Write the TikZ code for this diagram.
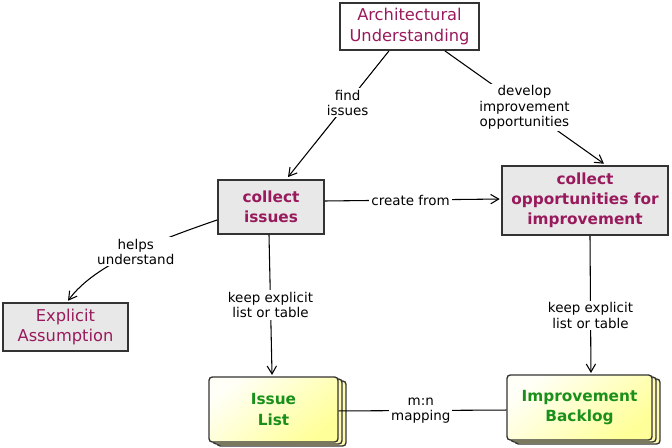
\documentclass[tikz,border=0pt]{standalone}
\usepackage{fontspec}
\setmainfont{DejaVu Sans}
\usetikzlibrary{arrows.meta,shadows}
\definecolor{txtpurple}{HTML}{991A5C}
\definecolor{txtgreen}{HTML}{1A901A}
\definecolor{boxgray}{HTML}{E8E8E8}
\definecolor{boxline}{HTML}{333333}
\begin{document}
\begin{tikzpicture}[x=0.75pt,y=-0.75pt,
  box/.style={draw=boxline, line width=1.4pt, inner sep=2pt, align=center,
    text=txtpurple, font=\fontsize{12.2}{15.2}\selectfont},
  graybox/.style={box, fill=boxgray},
  boldtxt/.style={font=\bfseries\fontsize{11.5}{15.2}\selectfont},
  stackbox/.style={draw=boxline, line width=1pt, rounded corners=2.5pt, align=center,
    text=txtgreen, font=\bfseries\fontsize{11.5}{15.2}\selectfont,
    top color=yellow!3, bottom color=yellow!40, shading angle=40,
    double copy shadow={shadow xshift=3pt, shadow yshift=-1.5pt, fill=yellow!30, draw=boxline}},
  conn/.style={draw=black, line width=0.8pt, -{Straight Barb[length=6pt,width=7pt]}},
  lbl/.style={fill=white, inner sep=1.5pt, align=center, text=black,
    font=\fontsize{10.1}{11.4}\selectfont}]
\useasboundingbox (0,0) rectangle (672,448);

\node[box, fill=white, minimum width=104.25pt, minimum height=35.25pt] (arch) at (409.5,26.5) {Architectural\\Understanding};
\node[graybox, boldtxt, minimum width=79.5pt, minimum height=40.5pt] (ci) at (271,207) {collect\\issues};
\node[graybox, boldtxt, minimum width=124.5pt, minimum height=51.75pt] (co) at (585,200.5) {collect\\opportunities for\\improvement};
\node[graybox, minimum width=93.75pt, minimum height=36pt] (ea) at (65.5,327) {Explicit\\Assumption};
\node[stackbox, minimum width=96.75pt, minimum height=48.75pt] (il) at (273.5,409.5) {Issue\\List};
\node[stackbox, minimum width=108.75pt, minimum height=48.75pt] (ib) at (579.5,407.5) {Improvement\\Backlog};

\draw[conn] ([xshift=-15.4pt]arch.south) -- node[lbl, pos=0.41] {find\\issues} ([xshift=12.75pt,yshift=1.5pt]ci.north);
\draw[conn] ([xshift=26.6pt]arch.south) -- node[lbl, pos=0.5] {develop\\improvement\\opportunities} ([xshift=14.25pt,yshift=1pt]co.north);
\draw[conn] ([yshift=4.5pt]ci.east) -- node[lbl, pos=0.49] {create from} ([yshift=1.1pt,xshift=-1pt]co.west);
\draw[conn] ([yshift=-9.75pt]ci.west) .. controls +(-58,20) and +(27,-37) .. node[lbl, pos=0.47] {helps\\understand} ([xshift=1.9pt,yshift=1pt]ea.north);
\draw[conn] ([xshift=-1.5pt]ci.south) -- node[lbl, pos=0.5] {keep explicit\\list or table} ([xshift=-1.1pt,yshift=1pt]il.north);
\draw[conn] ([xshift=3.75pt]co.south) -- node[lbl, pos=0.58] {keep explicit\\list or table} ([xshift=8.6pt,yshift=1pt]ib.north);
\draw[line width=0.8pt] ([yshift=-1.1pt]il.east) -- node[lbl, pos=0.49] {m:n\\mapping} ([yshift=-1.9pt]ib.west);
\end{tikzpicture}
\end{document}
